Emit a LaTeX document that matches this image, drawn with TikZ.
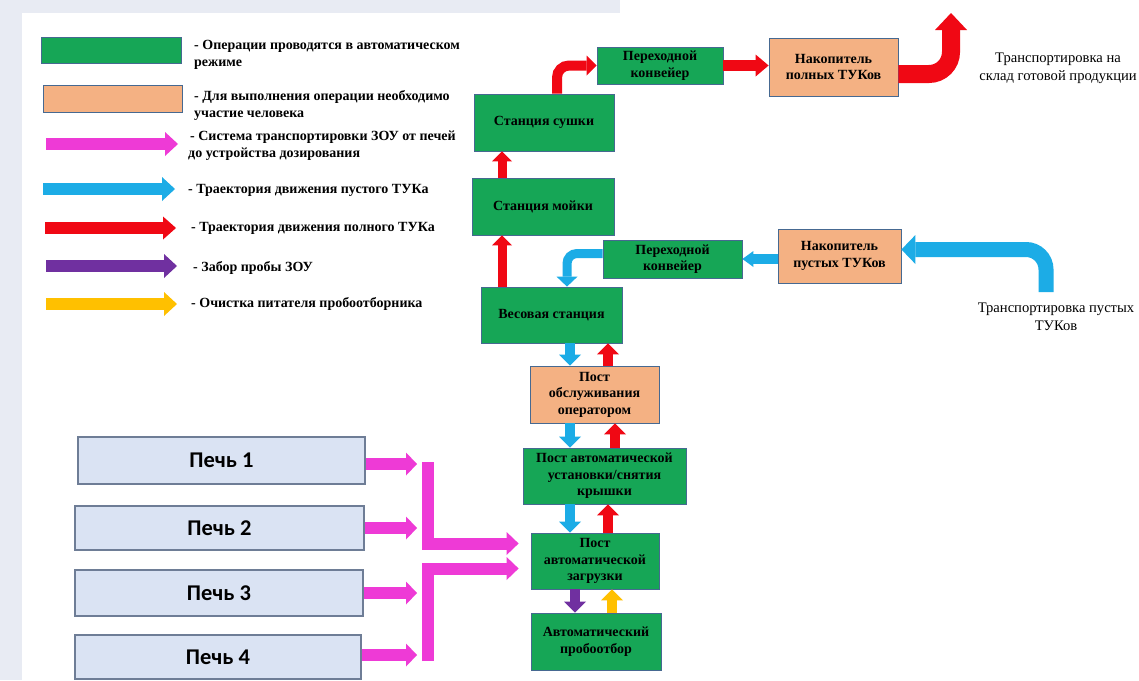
\documentclass[tikz,border=0pt]{standalone}
\usepackage{fontspec}
\setmainfont{Liberation Serif}
\newfontfamily\calib{Carlito}
\usetikzlibrary{arrows.meta,calc}
\definecolor{bgC}{RGB}{232,235,243}
\definecolor{greenC}{RGB}{22,166,86}
\definecolor{orangeC}{RGB}{244,177,131}
\definecolor{boxB}{RGB}{70,105,145}
\definecolor{pechC}{RGB}{218,227,243}
\definecolor{pechB}{RGB}{110,125,150}
\definecolor{magC}{RGB}{238,58,214}
\definecolor{cyC}{RGB}{28,172,230}
\definecolor{redC}{RGB}{240,8,20}
\definecolor{purC}{RGB}{112,48,160}
\definecolor{yelC}{RGB}{255,192,0}
\tikzset{
  box/.style={draw=boxB, line width=0.8pt, align=center, inner sep=1pt,
    font=\bfseries\fontsize{14}{16.5}\selectfont},
  gbox/.style={box, fill=greenC},
  obox/.style={box, fill=orangeC},
  pech/.style={draw=pechB, fill=pechC, line width=1.2pt,
    font=\calib\bfseries\fontsize{22.5}{26}\selectfont},
  legtxt/.style={align=left, inner sep=0pt, anchor=west,
    font=\bfseries\fontsize{14}{17}\selectfont},
  sidetxt/.style={align=center, inner sep=0pt,
    font=\fontsize{14.6}{17.5}\selectfont},
  barr/.style n args={4}{draw=#1, line width=#2, line join=miter,
    -{Triangle[width=#3,length=#4,line width=0pt]}},
}
\begin{document}
\begin{tikzpicture}[x=1pt,y=-1pt]
\useasboundingbox (0,0) rectangle (1139,680);
% background
\fill[bgC] (0,0) rectangle (1139,680);
\fill[white] (22,680) -- (22,13) -- (620,13) -- (620,0) -- (1139,0) -- (1139,680) -- cycle;

% ---------- legend ----------
\node[draw=boxB, fill=greenC, line width=0.8pt, minimum width=140, minimum height=26, inner sep=0pt] (lg1) at (111,50) {};
\node[draw=boxB, fill=orangeC, line width=0.8pt, minimum width=139, minimum height=27, inner sep=0pt] (lg2) at (112.5,98.5) {};
\draw[barr={magC}{12pt}{24pt}{13pt}] (46,144) -- (178,144);
\draw[barr={cyC}{12pt}{24pt}{13pt}] (43,189) -- (175,189);
\draw[barr={redC}{12pt}{23pt}{13pt}] (45,228) -- (176,228);
\draw[barr={purC}{12pt}{24pt}{13pt}] (46,266) -- (177,266);
\draw[barr={yelC}{12pt}{24pt}{13pt}] (46,304) -- (177,304);
\node[legtxt] (lt1) at (194,55) {- Операции проводятся в автоматическом\\режиме};
\node[legtxt] (lt2) at (194,105) {- Для выполнения операции необходимо\\участие человека};
\node[legtxt] (lt3) at (188,146) {\hspace{2pt}- Система транспортировки ЗОУ от печей\\до устройства дозирования};
\node[legtxt] (lt4) at (188,190) {- Траектория движения пустого ТУКа};
\node[legtxt] (lt5) at (191,228) {- Траектория движения полного ТУКа};
\node[legtxt] (lt6) at (193,268) {- Забор пробы ЗОУ};
\node[legtxt] (lt7) at (191,304) {- Очистка питателя пробоотборника};

% ---------- main nodes ----------
\node[gbox, minimum width=140, minimum height=57] (sushka) at (544,122.5) {Станция сушки};
\node[gbox, minimum width=142, minimum height=57] (moika) at (543,206.5) {Станция мойки};
\node[gbox, minimum width=126, minimum height=37] (per1) at (660,65.5) {Переходной\\конвейер};
\node[obox, minimum width=129, minimum height=58] (nak1) at (833.5,67) {Накопитель\\полных ТУКов};
\node[obox, minimum width=123, minimum height=54] (nak2) at (839.5,256) {Накопитель\\пустых ТУКов};
\node[gbox, minimum width=139, minimum height=38] (per2) at (672.5,259) {Переходной\\конвейер};
\node[gbox, minimum width=141, minimum height=56] (ves) at (551.5,315) {Весовая станция};
\node[obox, minimum width=129, minimum height=57] (obsl) at (594.5,394.5) {Пост\\обслуживания\\оператором};
\node[gbox, minimum width=163, minimum height=56] (ust) at (604.5,476) {Пост автоматической\\установки/снятия\\крышки};
\node[gbox, minimum width=128, minimum height=56] (zagr) at (595,561) {Пост\\автоматической\\загрузки};
\node[gbox, minimum width=130, minimum height=57] (prob) at (596,641.5) {Автоматический\\пробоотбор};

\node[pech, minimum width=287, minimum height=47] (p1) at (221.5,460.5) {Печь 1};
\node[pech, minimum width=289, minimum height=44] (p2) at (219.5,528) {Печь 2};
\node[pech, minimum width=288, minimum height=46] (p3) at (219,593) {Печь 3};
\node[pech, minimum width=286, minimum height=44] (p4) at (218,657) {Печь 4};

\node[sidetxt] (t1) at (1058,68.5) {Транспортировка на\\склад готовой продукции};
\node[sidetxt] (t2) at (1056,317) {Транспортировка пустых\\ТУКов};

% ---------- helper coordinates ----------
\coordinate (rW) at (502,0);
\coordinate (cL) at (570,0);
\coordinate (cK) at (567,0);
\coordinate (rA) at (608,0);
\coordinate (rB) at (615,0);
\coordinate (pL) at (575,0);
\coordinate (yL) at (612,0);
\coordinate (sA) at (557,0);
\coordinate (mt) at (417,0);
\coordinate (exit) at (951,13);
\coordinate (tp) at (1046,292);
\coordinate (b1top) at (427.5,462);
\coordinate (b2bot) at (427.5,661);
\coordinate (mtip1) at ([xshift=-12pt,yshift=17.5pt]zagr.west);
\coordinate (mtip2) at ([xshift=-12pt,yshift=-7.5pt]zagr.west);

% ---------- column connectors ----------
\draw[barr={redC}{9pt}{20pt}{10pt}] (ves.north -| rW) -- (moika.south -| rW);
\draw[barr={redC}{9pt}{20pt}{10pt}] (moika.north -| rW) -- (sushka.south -| rW);
\draw[barr={cyC}{10pt}{22pt}{11pt}] (ves.south -| cL) -- (obsl.north -| cL);
\draw[barr={redC}{10pt}{22pt}{11pt}] (obsl.north -| rA) -- (ves.south -| rA);
\draw[barr={cyC}{10pt}{22pt}{11pt}] (obsl.south -| cL) -- (ust.north -| cL);
\draw[barr={redC}{10pt}{22pt}{11pt}] (ust.north -| rB) -- (obsl.south -| rB);
\draw[barr={cyC}{10pt}{22pt}{11pt}] (ust.south -| cL) -- (zagr.north -| cL);
\draw[barr={redC}{10pt}{22pt}{11pt}] (zagr.north -| rA) -- (ust.south -| rA);
\draw[barr={purC}{10pt}{22pt}{11pt}] (zagr.south -| pL) -- (prob.north -| pL);
\draw[barr={yelC}{10pt}{22pt}{11pt}] (prob.north -| yL) -- (zagr.south -| yL);

% ---------- top and middle connectors ----------
\draw[barr={redC}{10pt}{20pt}{10pt}, rounded corners=12pt] (sushka.north -| sA) |- (per1.west);
\draw[barr={redC}{11pt}{22pt}{13pt}] (per1.east) -- (nak1.west |- per1.east);
\draw[barr={redC}{18pt}{32pt}{17pt}, rounded corners=22pt] ([yshift=-7pt]nak1.east) -| (exit);
\draw[barr={cyC}{15pt}{29pt}{14pt}, rounded corners=20pt] (tp) |- ([yshift=6.5pt]nak2.east);
\draw[barr={cyC}{10pt}{16pt}{11pt}] (nak2.west |- per2.east) -- (per2.east);
\draw[barr={cyC}{9pt}{21pt}{10pt}, rounded corners=10pt] ([yshift=5.5pt]per2.west) -| (ves.north -| cK);

% ---------- furnace connectors ----------
\draw[barr={magC}{12pt}{23pt}{11pt}] ([yshift=-3.5pt]p1.east) -- ([yshift=-3.5pt]p1.east -| mt);
\draw[barr={magC}{12pt}{23pt}{11pt}] (p2.east) -- (p2.east -| mt);
\draw[barr={magC}{12pt}{23pt}{11pt}] (p3.east) -- (p3.east -| mt);
\draw[barr={magC}{12pt}{23pt}{11pt}] ([yshift=2pt]p4.east) -- ([yshift=2pt]p4.east -| mt);
\draw[barr={magC}{12pt}{23pt}{12pt}] (b1top) |- (mtip1);
\draw[barr={magC}{12pt}{23pt}{12pt}] (b2bot) |- (mtip2);
\end{tikzpicture}
\end{document}
